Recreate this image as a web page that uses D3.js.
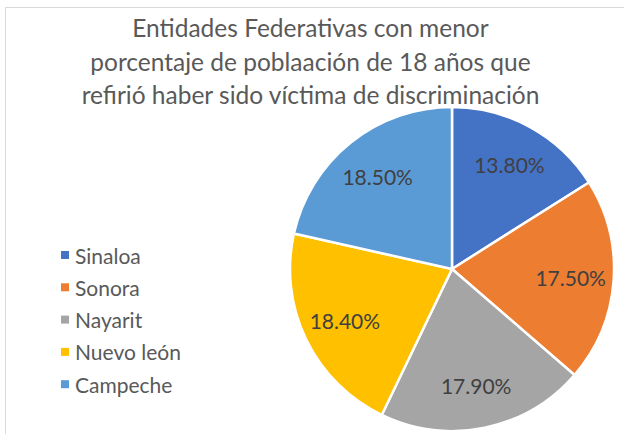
<!DOCTYPE html>
<html><head><meta charset="utf-8">
<script src="https://cdn.jsdelivr.net/npm/d3@7"></script>
<style>body{margin:0;background:#fff}svg{display:block}</style>
</head><body><svg id="c" width="624" height="434"></svg>
<script>
const categories = ["Sinaloa", "Sonora", "Nayarit", "Nuevo león", "Campeche"];
const values = [13.8, 17.5, 17.9, 18.4, 18.5];
const labels = ["13.80%", "17.50%", "17.90%", "18.40%", "18.50%"];
const colors = ["#4472C4", "#ED7D31", "#A5A5A5", "#FFC000", "#5B9BD5"];
const titleLines = ["Entidades Federativas con menor", "porcentaje de poblaación de 18 años que", "refirió haber sido víctima de discriminación"];

const svg = d3.select("#c");
const font = "Lato, 'Open Sans', sans-serif";
svg.append("path").attr("d", "M5.5,434 V7.5 H624").attr("fill", "none").attr("stroke", "#d9d9d9").attr("stroke-width", 1);

svg.append("g").selectAll("text").data(titleLines).join("text")
  .attr("x", 310.5).attr("y", (d, i) => 37 + i * 33.5)
  .attr("text-anchor", "middle").attr("font-family", font).attr("font-size", 24.5)
  .attr("fill", "#595959").text(d => d);

const cx = 452, cy = 269, r = 162;
const pie = d3.pie().sort(null).value(d => d)(values);
const arc = d3.arc().innerRadius(0).outerRadius(r);
const lab = d3.arc().innerRadius(119).outerRadius(119);
const g = svg.append("g").attr("transform", `translate(${cx},${cy})`);
g.selectAll("path").data(pie).join("path").attr("d", arc)
  .attr("fill", (d, i) => colors[i]).attr("stroke", "#fff").attr("stroke-width", 2.5).attr("stroke-linejoin", "round");
g.selectAll("text").data(pie).join("text")
  .attr("transform", d => `translate(${lab.centroid(d)})`)
  .attr("text-anchor", "middle").attr("dominant-baseline", "central")
  .attr("font-family", font).attr("font-size", 21).attr("fill", "#404040")
  .text((d, i) => labels[i]);

const leg = svg.append("g").selectAll("g").data(categories).join("g")
  .attr("transform", (d, i) => `translate(61,${255 + i * 32.3})`);
leg.append("rect").attr("x", 0).attr("y", -4).attr("width", 8).attr("height", 8).attr("fill", (d, i) => colors[i]);
leg.append("text").attr("x", 14).attr("y", 0).attr("dominant-baseline", "central")
  .attr("font-family", font).attr("font-size", 21).attr("fill", "#595959").text(d => d);
</script></body></html>
